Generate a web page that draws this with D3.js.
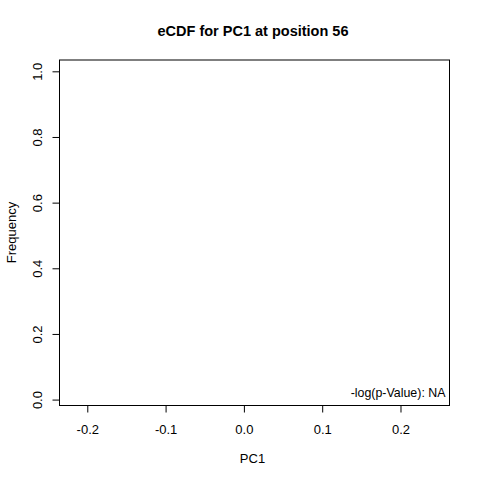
<!DOCTYPE html>
<html><head><meta charset="utf-8">
<script src="https://cdn.jsdelivr.net/npm/d3@7"></script>
<style>body{margin:0;background:#fff}text{font-family:"Liberation Sans",Arial,sans-serif}</style>
</head><body>
<script>
const title = "eCDF for PC1 at position 56";
const xLabel = "PC1";
const yLabel = "Frequency";
const xTicks = [-0.2, -0.1, 0.0, 0.1, 0.2];
const yTicks = [0.0, 0.2, 0.4, 0.6, 0.8, 1.0];
const xDomain = [-0.2355, 0.2626];
const yDomain = [-0.018, 1.0345];
const annotation = "-log(p-Value): NA";
const ecdfX = [];
const ecdfY = [];

const W = 480, H = 480;
const m = {l: 59.5, r: 449.5, t: 60, b: 405.5};
const FONT = '"Liberation Sans",Arial,sans-serif';
const fmt = d => d3.format(".1f")(d).replace("\u2212", "-");
const svg = d3.select("body").append("svg").attr("width", W).attr("height", H);
const x = d3.scaleLinear().domain(xDomain).range([m.l, m.r]);
const y = d3.scaleLinear().domain(yDomain).range([m.b, m.t]);

svg.append("text").attr("x", 253).attr("y", 36).attr("text-anchor", "middle")
  .attr("font-weight", "bold").attr("font-size", 14.5).text(title);

const xa = svg.append("g").attr("transform", `translate(0,${m.b})`)
  .call(d3.axisBottom(x).tickValues(xTicks).tickFormat(fmt).tickSize(7));
xa.select(".domain").remove();
xa.selectAll("text").attr("font-size", 13).attr("fill", "#000").style("font-family", FONT)
  .attr("y", 28).attr("dy", null);
xa.selectAll("line").attr("stroke", "#000");

const ya = svg.append("g").attr("transform", `translate(${m.l},0)`)
  .call(d3.axisLeft(y).tickValues(yTicks).tickFormat(fmt).tickSize(7));
ya.select(".domain").remove();
ya.selectAll("line").attr("stroke", "#000");
ya.selectAll("text").attr("font-size", 13).attr("fill", "#000")
  .style("font-family", FONT)
  .attr("x", null).attr("dy", null).attr("text-anchor", "middle")
  .attr("transform", "translate(-17.5,0) rotate(-90)");

svg.append("rect").attr("x", m.l).attr("y", m.t).attr("width", m.r - m.l).attr("height", m.b - m.t)
  .attr("fill", "none").attr("stroke", "#000").attr("stroke-width", 1);

svg.append("path").datum(d3.zip(ecdfX, ecdfY))
  .attr("fill", "none").attr("stroke", "#000")
  .attr("d", d3.line().x(d => x(d[0])).y(d => y(d[1])).curve(d3.curveStepAfter));

svg.append("text").attr("x", 252.5).attr("y", 462.5).attr("text-anchor", "middle").attr("font-size", 13).text(xLabel);
svg.append("text").attr("transform", "translate(15.5,232.5) rotate(-90)").attr("text-anchor", "middle")
  .attr("font-size", 13).text(yLabel);

svg.append("text").attr("x", 445.5).attr("y", 397.3).attr("text-anchor", "end").attr("font-size", 12.4).text(annotation);
</script>
</body></html>
